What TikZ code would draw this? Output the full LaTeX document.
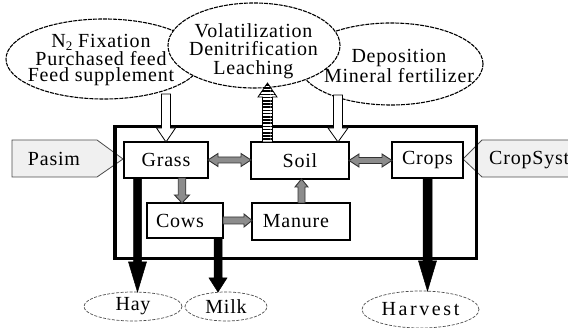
\documentclass[tikz,border=0pt]{standalone}
\usepackage{fontspec}
\setmainfont{Liberation Serif}[LetterSpace=4]
\usetikzlibrary{calc,patterns.meta,shapes.geometric}
\newcommand\vblock[6]{%
  \path[#1] let \p1=#2, \p2=#3, \n1={sign(\y2-\y1)} in
    (\x2,\y2) -- (\x2-#5,{\y2-(\n1)*#6}) -- (\x2-#4,{\y2-(\n1)*#6}) -- (\x2-#4,\y1)
    -- (\x2+#4,\y1) -- (\x2+#4,{\y2-(\n1)*#6}) -- (\x2+#5,{\y2-(\n1)*#6}) -- cycle;}
\newcommand\hdblock[6]{%
  \path[#1] let \p1=#2, \p2=#3 in
    (\x1,\y1) -- (\x1+#6,\y1+#5) -- (\x1+#6,\y1+#4) -- (\x2-#6,\y1+#4) -- (\x2-#6,\y1+#5)
    -- (\x2,\y1) -- (\x2-#6,\y1-#5) -- (\x2-#6,\y1-#4) -- (\x1+#6,\y1-#4) -- (\x1+#6,\y1-#5) -- cycle;}
\newcommand\hblock[6]{%
  \path[#1] let \p1=#2, \p2=#3 in
    (\x1,\y1+#4) -- (\x2-#6,\y1+#4) -- (\x2-#6,\y1+#5) -- (\x2,\y1)
    -- (\x2-#6,\y1-#5) -- (\x2-#6,\y1-#4) -- (\x1,\y1-#4) -- cycle;}
\begin{document}
\begin{tikzpicture}[x=1pt,y=-1pt,
  fnt/.style={font=\fontsize{20}{18}\selectfont},
  txt/.style={fnt, inner sep=0pt, align=center},
  box/.style={fnt, draw, line width=1.2pt, fill=white, inner sep=0pt, outer sep=0pt},
  topell/.style={ellipse, draw, line width=1.1pt, dash pattern=on 4pt off 1pt, fill=white, inner sep=0pt, outer sep=0pt},
  botell/.style={ellipse, draw=black!70, line width=0.7pt, dash pattern=on 3pt off 1.5pt, inner sep=0pt, outer sep=0pt},
  grayarr/.style={fill=black!45, draw=black!80, line width=0.9pt},
  whitearr/.style={fill=white, draw=black, line width=0.8pt},
  blackarr/.style={fill=black, draw=black, line width=0.5pt},
  hatcharr/.style={draw=black, line width=0.8pt, fill=white, postaction={pattern={Lines[distance=3.2pt, line width=1.6pt, angle=0]}}},
  signalshape/.style={fill=black!6, draw=black!70, line width=0.8pt},
]
\useasboundingbox (0,0) rectangle (568,328);
\clip (0,0) rectangle (568,328);
% top ellipses
\node[topell, minimum width=196pt, minimum height=80pt] (ell1) at (104,59) {};
\node[topell, minimum width=184pt, minimum height=82pt] (ell3) at (391,64) {};
\node[topell, minimum width=172pt, minimum height=85pt] (ell2) at (254,45.5) {};
\node[txt, font=\fontsize{20}{16.3}\selectfont] (t1) at (101,60) {N{\fontsize{13}{13}\selectfont\raisebox{-2.5pt}{2}} Fixation\\Purchased feed\\Feed supplement};
\node[txt, font=\fontsize{20}{18.3}\selectfont] (t2) at (253.5,51) {Volatilization\\Denitrification\\Leaching};
\node[txt, font=\fontsize{20}{18.3}\selectfont] (t3) at (399,66) {Deposition\\Mineral fertilizer};
% side models
\path[signalshape] (12,140) -- (97,140) -- (123,159) -- (97,177) -- (12,177) -- cycle;
\path[signalshape] (463,159) -- (482,140) -- (600,140) -- (600,177) -- (482,177) -- cycle;
\node[txt, anchor=base] (pasim) at (54,165.5) {Pasim};
\node[txt, anchor=base west] (cropsyst) at (489,165) {CropSyst};
% frame
\draw[line width=3.2pt] (115,126.5) rectangle (476.5,258.5);
% boxes
\node[box, minimum width=84pt, minimum height=36pt] (grass) at (166,160) {Grass};
\node[box, minimum width=98pt, minimum height=37pt] (soil) at (300,160.5) {Soil};
\node[box, minimum width=71pt, minimum height=36pt] (crops) at (427.5,160) {Crops};
\node[box, minimum width=76pt, minimum height=35pt] (cows) at (185,220.5) {Cows\hspace*{10pt}};
\node[box, minimum width=98pt, minimum height=37pt] (manure) at (301,221.5) {Manure\hspace*{10pt}};
% bottom ellipses
\node[botell, minimum width=98pt, minimum height=29pt] (hay) at (133,306.5) {};
\node[botell, minimum width=82pt, minimum height=29pt] (milk) at (226,306.5) {};
\node[botell, minimum width=117pt, minimum height=37pt] (harvest) at (420.5,309.5) {};
\node[txt] at (hay) {Hay};
\node[txt] at (milk) {Milk};
\node[txt] at (harvest) {\addfontfeature{LetterSpace=13}Harvest};
% helper coordinates
\coordinate (e1) at (166,94);
\coordinate (e3) at (338,95);
\coordinate (s1) at ($(soil.north)+(-32.5,0)$);
\coordinate (v1) at (267.5,83);
\coordinate (gc) at ($(grass.south)+(16,0)$);
\coordinate (mc) at ($(manure.north)+(0.5,0)$);
\coordinate (g1) at ($(grass.south)+(-28.5,0)$);
\coordinate (c1) at ($(cows.south)+(33,0)$);
% inputs / outputs
\vblock{whitearr}{(e1)}{(e1 |- grass.north)}{4.5pt}{9.5pt}{14pt}
\vblock{whitearr}{(e3)}{(e3 |- soil.north)}{4.5pt}{10pt}{14pt}
\vblock{hatcharr}{(s1)}{(v1)}{5pt}{9.5pt}{14pt}
% internal flows
\hdblock{grayarr}{(grass.east)}{(soil.west |- grass.east)}{3pt}{6.5pt}{10pt}
\hdblock{grayarr}{(soil.east)}{(crops.west |- soil.east)}{3pt}{6.5pt}{10pt}
\vblock{grayarr}{(gc)}{(gc |- cows.north)}{3.75pt}{7.5pt}{8pt}
\hblock{grayarr}{(cows.east)}{(manure.west |- cows.east)}{3.5pt}{6.5pt}{8pt}
\vblock{grayarr}{(mc)}{(mc |- soil.south)}{3.5pt}{6.5pt}{8pt}
% exports
\vblock{blackarr}{(g1)}{(g1 |- hay.north)}{4pt}{9pt}{30pt}
\vblock{blackarr}{(c1)}{(c1 |- milk.north)}{4pt}{9pt}{14pt}
\vblock{blackarr}{(crops.south)}{(crops.south |- harvest.north)}{4.5pt}{9pt}{30pt}
\end{tikzpicture}
\end{document}
